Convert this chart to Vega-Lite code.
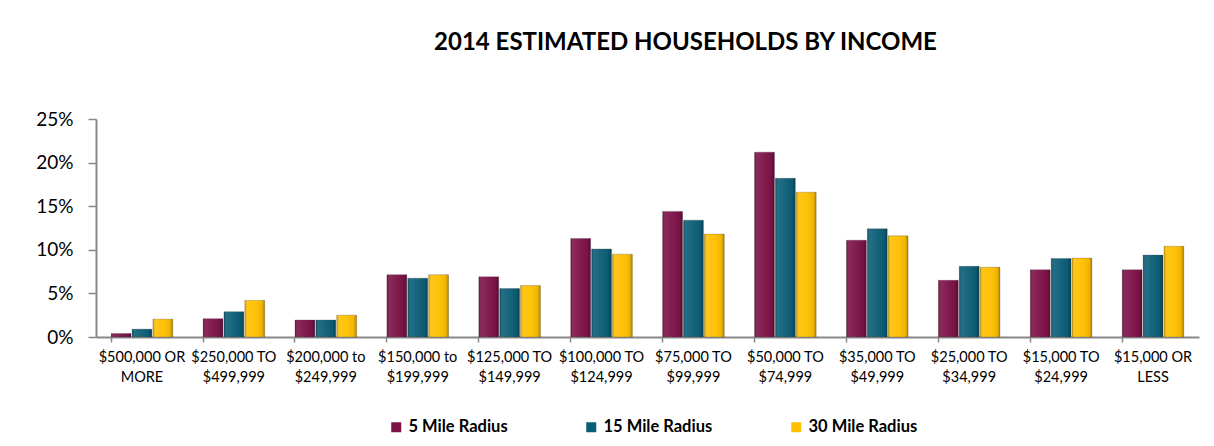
{
  "$schema": "https://vega.github.io/schema/vega-lite/v6.json",
  "autosize": {"type": "none"},
  "padding": {"left": 96, "top": 119, "right": 15, "bottom": 109},
  "width": 1103,
  "height": 218,
  "background": "white",
  "config": {"view": {"stroke": null}},
  "title": {"text": "2014 ESTIMATED HOUSEHOLDS BY INCOME", "font": "Lato", "fontSize": 24, "fontWeight": "bold", "color": "#000000", "anchor": "middle", "dx": 38, "offset": 55},
  "data": {"values": [
    {"income": "$500,000 OR MORE", "radius": "5 Mile Radius", "pct": 0.4},
    {"income": "$500,000 OR MORE", "radius": "15 Mile Radius", "pct": 0.9},
    {"income": "$500,000 OR MORE", "radius": "30 Mile Radius", "pct": 2.05},
    {"income": "$250,000 TO $499,999", "radius": "5 Mile Radius", "pct": 2.1},
    {"income": "$250,000 TO $499,999", "radius": "15 Mile Radius", "pct": 2.9},
    {"income": "$250,000 TO $499,999", "radius": "30 Mile Radius", "pct": 4.2},
    {"income": "$200,000 to $249,999", "radius": "5 Mile Radius", "pct": 1.95},
    {"income": "$200,000 to $249,999", "radius": "15 Mile Radius", "pct": 1.95},
    {"income": "$200,000 to $249,999", "radius": "30 Mile Radius", "pct": 2.5},
    {"income": "$150,000 to $199,999", "radius": "5 Mile Radius", "pct": 7.15},
    {"income": "$150,000 to $199,999", "radius": "15 Mile Radius", "pct": 6.75},
    {"income": "$150,000 to $199,999", "radius": "30 Mile Radius", "pct": 7.15},
    {"income": "$125,000 TO $149,999", "radius": "5 Mile Radius", "pct": 6.9},
    {"income": "$125,000 TO $149,999", "radius": "15 Mile Radius", "pct": 5.55},
    {"income": "$125,000 TO $149,999", "radius": "30 Mile Radius", "pct": 5.9},
    {"income": "$100,000 TO $124,999", "radius": "5 Mile Radius", "pct": 11.3},
    {"income": "$100,000 TO $124,999", "radius": "15 Mile Radius", "pct": 10.1},
    {"income": "$100,000 TO $124,999", "radius": "30 Mile Radius", "pct": 9.5},
    {"income": "$75,000 TO $99,999", "radius": "5 Mile Radius", "pct": 14.4},
    {"income": "$75,000 TO $99,999", "radius": "15 Mile Radius", "pct": 13.4},
    {"income": "$75,000 TO $99,999", "radius": "30 Mile Radius", "pct": 11.8},
    {"income": "$50,000 TO $74,999", "radius": "5 Mile Radius", "pct": 21.2},
    {"income": "$50,000 TO $74,999", "radius": "15 Mile Radius", "pct": 18.2},
    {"income": "$50,000 TO $74,999", "radius": "30 Mile Radius", "pct": 16.6},
    {"income": "$35,000 TO $49,999", "radius": "5 Mile Radius", "pct": 11.1},
    {"income": "$35,000 TO $49,999", "radius": "15 Mile Radius", "pct": 12.4},
    {"income": "$35,000 TO $49,999", "radius": "30 Mile Radius", "pct": 11.6},
    {"income": "$25,000 TO $34,999", "radius": "5 Mile Radius", "pct": 6.5},
    {"income": "$25,000 TO $34,999", "radius": "15 Mile Radius", "pct": 8.1},
    {"income": "$25,000 TO $34,999", "radius": "30 Mile Radius", "pct": 8.0},
    {"income": "$15,000 TO $24,999", "radius": "5 Mile Radius", "pct": 7.7},
    {"income": "$15,000 TO $24,999", "radius": "15 Mile Radius", "pct": 9.0},
    {"income": "$15,000 TO $24,999", "radius": "30 Mile Radius", "pct": 9.05},
    {"income": "$15,000 OR LESS", "radius": "5 Mile Radius", "pct": 7.7},
    {"income": "$15,000 OR LESS", "radius": "15 Mile Radius", "pct": 9.4},
    {"income": "$15,000 OR LESS", "radius": "30 Mile Radius", "pct": 10.4}
  ]},
  "encoding": {
    "x": {
      "field": "income", "type": "nominal", "sort": null, "title": null,
      "scale": {"paddingInner": 0.33, "paddingOuter": 0.165},
      "axis": {
        "labelAngle": 0, "labelFont": "Lato", "labelFontSize": 14.5, "labelColor": "#000000",
        "labelExpr": "[join(slice(split(datum.value, ' '), 0, 2), ' '), join(slice(split(datum.value, ' '), 2), ' ')]",
        "labelLineHeight": 20, "labelPadding": 8, "labelLimit": 200,
        "domainColor": "#888888", "domainWidth": 2, "tickColor": "#888888", "tickWidth": 1.5, "tickSize": 5, "bandPosition": 0, "grid": false
      }
    },
    "xOffset": {"field": "radius", "type": "nominal", "sort": ["5 Mile Radius", "15 Mile Radius", "30 Mile Radius"], "scale": {"paddingInner": 0.05}},
    "y": {
      "field": "pct", "type": "quantitative", "title": null,
      "scale": {"domain": [0, 25], "nice": false},
      "axis": {
        "values": [0, 5, 10, 15, 20, 25], "labelExpr": "datum.value + '%'",
        "labelFont": "Lato", "labelFontSize": 19, "labelColor": "#000000", "labelPadding": 15,
        "domainColor": "#888888", "domainWidth": 2, "tickColor": "#888888", "tickWidth": 1.5, "tickSize": 8, "grid": false
      }
    }
  },
  "layer": [
    {
      "mark": {"type": "bar", "stroke": "#3a3a3a", "strokeOpacity": 0.25, "strokeWidth": 1},
      "encoding": {
        "color": {
          "field": "radius", "type": "nominal",
          "sort": ["5 Mile Radius", "15 Mile Radius", "30 Mile Radius"],
          "scale": {"domain": ["5 Mile Radius", "15 Mile Radius", "30 Mile Radius"], "range": ["#7D1248", "#0B5E77", "#FFC000"]},
          "legend": {
            "title": null, "orient": "none", "direction": "horizontal", "legendX": 292, "legendY": 300,
            "symbolType": "square", "symbolSize": 100, "symbolStrokeWidth": 0, "symbolOffset": 0,
            "labelFont": "Lato", "labelFontSize": 16.5, "labelFontWeight": "bold", "labelColor": "#000000", "labelOffset": 4,
            "gridAlign": "none", "columnPadding": 75, "padding": 0, "labelLimit": 300
          }
        }
      }
    },
    {
      "mark": {"type": "bar", "fill": {"gradient": "linear", "x1": 0, "x2": 1, "y1": 0, "y2": 0, "stops": [
        {"offset": 0, "color": "rgba(0,0,0,0.22)"},
        {"offset": 0.12, "color": "rgba(255,255,255,0.10)"},
        {"offset": 0.5, "color": "rgba(255,255,255,0.04)"},
        {"offset": 0.85, "color": "rgba(0,0,0,0.06)"},
        {"offset": 1, "color": "rgba(0,0,0,0.30)"}
      ]}},
      "encoding": {}
    }
  ]
}
